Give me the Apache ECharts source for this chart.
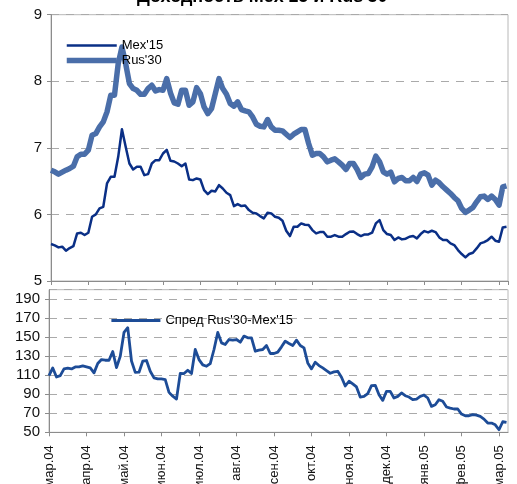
<!DOCTYPE html>
<html>
<head>
<meta charset="utf-8">
<script src="https://cdn.jsdelivr.net/npm/echarts@6/dist/echarts.min.js"></script>
<style>
  html, body { margin: 0; padding: 0; background: #fff; }
  #chart { width: 517px; height: 484px; }
</style>
</head>
<body>
<div id="chart"></div>
<script>
// month tick labels (one per month, mar.04 .. mar.05)
var months = ["мар.04", "апр.04", "май.04", "июн.04", "июл.04", "авг.04", "сен.04",
              "окт.04", "ноя.04", "дек.04", "янв.05", "фев.05", "мар.05"];

// yields, 10 readings per month starting 1 March 2004
var mex15 = [
  5.555, 5.535, 5.505, 5.515, 5.455, 5.495, 5.525, 5.715, 5.725, 5.69,
  5.725, 5.965, 6.0, 6.09, 6.115, 6.465, 6.565, 6.565, 6.865, 7.28,
  7.015, 6.765, 6.675, 6.715, 6.715, 6.59, 6.605, 6.765, 6.815, 6.815,
  6.915, 6.97, 6.805, 6.795, 6.765, 6.725, 6.765, 6.525, 6.515, 6.54,
  6.525, 6.365, 6.305, 6.355, 6.345, 6.44, 6.39, 6.325, 6.29, 6.125,
  6.155, 6.125, 6.135, 6.065, 6.025, 6.015, 5.975, 5.94, 6.025, 6.015,
  5.965, 5.95, 5.905, 5.755, 5.675, 5.815, 5.815, 5.865, 5.845, 5.84,
  5.765, 5.715, 5.735, 5.735, 5.665, 5.665, 5.69, 5.665, 5.665, 5.705,
  5.74, 5.745, 5.705, 5.675, 5.7, 5.7, 5.725, 5.865, 5.915, 5.765,
  5.705, 5.69, 5.615, 5.655, 5.625, 5.635, 5.665, 5.675, 5.64, 5.705,
  5.75, 5.73, 5.755, 5.735, 5.655, 5.615, 5.615, 5.565, 5.54, 5.465,
  5.405, 5.355, 5.405, 5.425, 5.49, 5.565, 5.585, 5.615, 5.665, 5.605,
  5.59, 5.805, 5.815
];
var rus30 = [
  6.665, 6.64, 6.605, 6.635, 6.665, 6.69, 6.725, 6.865, 6.905, 6.905,
  6.965, 7.19, 7.215, 7.315, 7.39, 7.54, 7.79, 7.79, 8.265, 8.515,
  8.265, 7.965, 7.89, 7.865, 7.805, 7.805, 7.89, 7.94, 7.855, 7.875,
  7.865, 8.04, 7.825, 7.675, 7.655, 7.865, 7.865, 7.64, 7.69, 7.905,
  7.815, 7.615, 7.515, 7.59, 7.815, 8.04, 7.89, 7.805, 7.665, 7.625,
  7.69, 7.575, 7.555, 7.54, 7.465, 7.355, 7.325, 7.315, 7.425, 7.315,
  7.265, 7.265, 7.255, 7.205, 7.155, 7.205, 7.24, 7.275, 7.275, 7.065,
  6.89, 6.915, 6.915, 6.865, 6.79, 6.815, 6.835, 6.79, 6.74, 6.675,
  6.765, 6.765, 6.675, 6.555, 6.605, 6.615, 6.715, 6.875, 6.79, 6.64,
  6.605, 6.635, 6.49, 6.54, 6.555, 6.505, 6.505, 6.555, 6.495, 6.605,
  6.625, 6.59, 6.44, 6.515, 6.475, 6.415, 6.365, 6.315, 6.255, 6.205,
  6.09, 6.03, 6.065, 6.105, 6.19, 6.265, 6.275, 6.225, 6.275, 6.225,
  6.14, 6.415, 6.43
];
// spread, bp
var spread = [
  109.6, 117.7, 108.2, 109.6, 116.7, 117.4, 116.7, 118.8, 118.8, 119.8,
  118.8, 117.7, 112.5, 122.3, 126.5, 125.8, 125.8, 135, 118, 130,
  155, 160, 125, 113, 113.2, 124.8, 125.5, 114.2, 107.2, 106.1,
  106.1, 105.4, 92, 88, 85, 112, 111.8, 115.3, 111.8, 137.1,
  126.5, 120.9, 119.5, 122.3, 137.1, 155, 144.1, 142.4, 147.6, 146.9,
  147.6, 144.8, 151.2, 149.4, 149.4, 135.3, 136.4, 137.1, 141.3, 132.9,
  132.9, 134.3, 139.9, 145.9, 143.4, 141.3, 146.9, 141.3, 138.8, 123,
  116.7, 123.7, 120.2, 117.7, 114.9, 112.1, 113.5, 114.2, 107.9, 98.7,
  103.7, 100.9, 97.7, 87.1, 87.8, 90.7, 99.1, 99.4, 89.6, 83.6,
  93.1, 93.1, 86.1, 87.8, 91.4, 88.5, 87.1, 84.3, 85, 87.8,
  89.2, 86.1, 77.3, 79, 84.3, 82.6, 76.6, 75.5, 74.5, 74.5,
  69.2, 67.4, 67.4, 68.5, 68.1, 66.7, 63.9, 59.7, 59.7, 57.9,
  52.7, 61.1, 60.4
];

var PER_MONTH = 10;
function pairs(arr) {
  return arr.map(function (v, i) { return [i / PER_MONTH, v]; });
}

var font = '"Liberation Sans", Arial, sans-serif';
var gridGray = "#aaaaaa", axisGray = "#8c8c8c";
var cMex = "#0a2f86", cRus = "#4a6ea9", cSpread = "#1d4c97";

function monthAxis(gridIndex, showLabels) {
  return {
    type: "value", gridIndex: gridIndex, min: 0, max: 12.24, interval: 1,
    axisLine: { show: true, lineStyle: { color: axisGray } },
    axisTick: { show: true, length: 4, lineStyle: { color: axisGray } },
    splitLine: { show: false },
    axisLabel: {
      show: showLabels, rotate: 90, margin: 13, color: "#111",
      fontFamily: font, fontSize: 13, showMaxLabel: false,
      formatter: function (v) { return months[Math.round(v)] || ""; }
    }
  };
}

function valueAxis(gridIndex, min, max, interval) {
  return {
    type: "value", gridIndex: gridIndex, min: min, max: max, interval: interval,
    axisLine: { show: true, lineStyle: { color: axisGray } },
    axisTick: { show: true, length: 4, lineStyle: { color: axisGray } },
    splitLine: { show: true, lineStyle: { color: gridGray, type: [8, 7], width: 1 } },
    axisLabel: { color: "#111", fontFamily: font, fontSize: 15, margin: 9, showMaxLabel: gridIndex === 0 }
  };
}

// legend keys are plain lines, no marker in the middle
var noMarker = { opacity: 0 };

var chart = echarts.init(document.getElementById("chart"), null, { renderer: "canvas" });
chart.setOption({
  animation: false,
  backgroundColor: "#fff",
  textStyle: { fontFamily: font },
  title: {
    text: "Доходность Mex'15 и Rus'30", left: 132, top: -17,
    textStyle: { fontFamily: font, fontSize: 18, fontWeight: "bold", color: "#000" }
  },
  legend: [
    {
      data: [
        { name: "Mex'15", lineStyle: { width: 2.5 } },
        { name: "Rus'30", lineStyle: { width: 5.5 } }
      ],
      orient: "vertical", left: 64, top: 39, padding: 0,
      itemWidth: 50, itemHeight: 14, itemGap: 2, itemStyle: noMarker,
      textStyle: { fontFamily: font, fontSize: 13, color: "#000" }
    },
    {
      data: [{ name: "Спред Rus'30-Mex'15", lineStyle: { width: 2.8 } }],
      left: 110, top: 314, padding: 0,
      itemWidth: 49, itemHeight: 14, itemStyle: noMarker,
      textStyle: { fontFamily: font, fontSize: 13, color: "#000" }
    }
  ],
  // labels run off the bottom edge in the original, so don't shrink grids to fit them
  grid: [
    { left: 51, right: 9, top: 14.7, height: 266.3, outerBoundsMode: "none",
      show: true, borderColor: "#b8b8b8", borderWidth: 1 },
    { left: 49, right: 9, top: 289.7, height: 142.6, outerBoundsMode: "none",
      show: true, borderColor: "#b8b8b8", borderWidth: 1 }
  ],
  xAxis: [monthAxis(0, false), monthAxis(1, true)],
  yAxis: [valueAxis(0, 5, 9, 1), valueAxis(1, 50, 200, 20)],
  series: [
    {
      name: "Rus'30", type: "line", xAxisIndex: 0, yAxisIndex: 0, data: pairs(rus30),
      symbol: "none", lineStyle: { color: cRus, width: 5.5, join: "round" },
      itemStyle: { color: cRus }, z: 2
    },
    {
      name: "Mex'15", type: "line", xAxisIndex: 0, yAxisIndex: 0, data: pairs(mex15),
      symbol: "none", lineStyle: { color: cMex, width: 2.5, join: "round" },
      itemStyle: { color: cMex }, z: 3
    },
    {
      name: "Спред Rus'30-Mex'15", type: "line", xAxisIndex: 1, yAxisIndex: 1, data: pairs(spread),
      symbol: "none", lineStyle: { color: cSpread, width: 2.8, join: "round" },
      itemStyle: { color: cSpread }
    }
  ]
});
</script>
</body>
</html>
